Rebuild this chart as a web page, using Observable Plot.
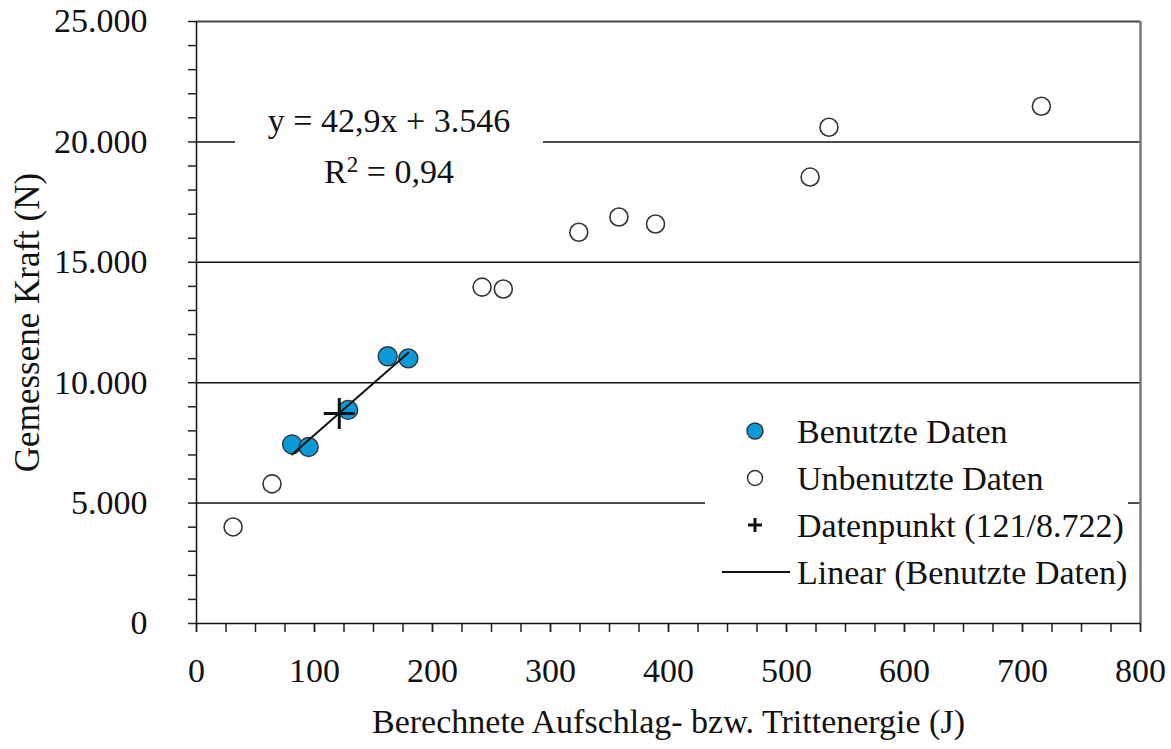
<!DOCTYPE html>
<html><head><meta charset="utf-8">
<script src="https://cdn.jsdelivr.net/npm/d3@7"></script>
<script src="https://cdn.jsdelivr.net/npm/@observablehq/plot@0.6"></script>
<style>
body{margin:0;background:#fff;}
#wrap{position:relative;width:1171px;height:749px;font-family:"Liberation Serif","Times New Roman",serif;color:#111;}
.ov{position:absolute;background:#fff;font-size:34px;color:#111;}
.row{display:flex;align-items:center;height:47px;white-space:nowrap;}
.row svg{flex:none;}
</style></head><body><div id="wrap"></div>
<script>
// ---- data ----
const usedX = [81, 95, 128.5, 162, 179.5];
const usedY = [7440, 7330, 8870, 11100, 11010];
const unusedX = [31, 64, 242, 260, 324, 358, 389, 520, 536, 716];
const unusedY = [4010, 5800, 13970, 13890, 16250, 16880, 16590, 18540, 20610, 21480];
const pointX = [121];
const pointY = [8722];
const fitSlope = 42.9, fitIntercept = 3546, fitR2 = 0.94;
const xTicks = [0, 100, 200, 300, 400, 500, 600, 700, 800];
const yTicks = [0, 5000, 10000, 15000, 20000, 25000];
const gridLevels = [5000, 10000, 15000, 20000];
const xLabel = "Berechnete Aufschlag- bzw. Trittenergie (J)";
const yLabel = "Gemessene Kraft (N)";
const legendLabels = ["Benutzte Daten", "Unbenutzte Daten", "Datenpunkt", "Linear (Benutzte Daten)"];

const de = d3.formatLocale({decimal: ",", thousands: ".", grouping: [3], currency: ["", " €"]});
const fmtInt = de.format(",.0f");
const fmtDec = de.format(",.1f");
const fmt2 = de.format(",.2f");

const used = usedX.map((x, i) => ({x, y: usedY[i]}));
const unused = unusedX.map((x, i) => ({x, y: unusedY[i]}));
const point = pointX.map((x, i) => ({x, y: pointY[i]}));
const fitX = d3.extent(usedX);
const fitLine = fitX.map(x => ({x, y: fitSlope * x + fitIntercept}));

const blue = "#0a9ad7";
const minorX = d3.range(0, 801, 25);
const minorY = d3.range(0, 25001, 1000);
const FS = 34;

const chart = Plot.plot({
  width: 1171, height: 749,
  marginLeft: 196, marginRight: 31, marginTop: 21, marginBottom: 126,
  style: {fontFamily: '"Liberation Serif","Times New Roman",serif', fontSize: FS + "px", color: "#111", background: "#fff"},
  x: {domain: [0, 800]},
  y: {domain: [0, 25000]},
  marks: [
    Plot.ruleY(gridLevels, {stroke: "#111", strokeWidth: 1.5}),
    Plot.axisY(minorY, {tickSize: 8, tickFormat: () => "", label: null, stroke: "#222", strokeWidth: 1.5}),
    Plot.axisY(yTicks, {tickSize: 8, tickPadding: 25, dx: -16, tickFormat: fmtInt, label: null, stroke: "none", fontSize: FS}),
    Plot.axisX(minorX, {tickSize: 9, tickFormat: () => "", label: null, stroke: "#222", strokeWidth: 1.5}),
    Plot.axisX(xTicks, {tickSize: 9, tickPadding: 25, tickFormat: fmtInt, label: null, stroke: "#222", strokeWidth: 1.5, fontSize: FS}),
    Plot.ruleY([25000], {stroke: "#444", strokeWidth: 2}),
    Plot.ruleX([800], {stroke: "#777", strokeWidth: 2.5}),
    Plot.ruleX([0], {stroke: "#111", strokeWidth: 1.5}),
    Plot.ruleY([0], {stroke: "#111", strokeWidth: 1.5}),
    Plot.dot(unused, {x: "x", y: "y", r: 9, fill: "#fff", stroke: "#333", strokeWidth: 1.6}),
    Plot.dot(used, {x: "x", y: "y", r: 9.5, fill: blue, stroke: "#333", strokeWidth: 1.4}),
    Plot.line(fitLine, {x: "x", y: "y", stroke: "#111", strokeWidth: 2}),
    Plot.dot(point, {x: "x", y: "y", symbol: "plus", r: 10, stroke: "#111", strokeWidth: 3}),
    Plot.text([xLabel], {frameAnchor: "bottom", textAnchor: "middle", lineAnchor: "middle", dy: 99, fontSize: FS, fill: "#111"}),
    Plot.text([yLabel], {frameAnchor: "left", textAnchor: "middle", lineAnchor: "middle", rotate: -90, dx: -169, fontSize: 35, fill: "#111"})
  ]
});
const wrap = document.getElementById("wrap");
wrap.appendChild(chart);

// equation box
const eq = document.createElement("div");
eq.className = "ov";
eq.style.cssText = "left:235px;top:95px;width:308px;line-height:51px;text-align:center;";
eq.innerHTML = `<div>y = ${fmtDec(fitSlope)}x + ${fmtInt(fitIntercept)}</div><div>R<sup style="font-size:23px;vertical-align:0;position:relative;top:-11px">2</sup> = ${fmt2(fitR2)}</div>`;
wrap.appendChild(eq);

// legend box
const lg = document.createElement("div");
lg.className = "ov";
lg.style.cssText = "left:705px;top:408px;width:423px;";
const sym = [
  `<circle cx="50" cy="23" r="8" fill="${blue}" stroke="#333" stroke-width="1.4"/>`,
  `<circle cx="50" cy="23" r="7.5" fill="#fff" stroke="#333" stroke-width="1.5"/>`,
  `<path d="M43 23H57M50 16V30" stroke="#111" stroke-width="3"/>`,
  `<path d="M17 23H85" stroke="#111" stroke-width="2"/>`
];
const texts = [legendLabels[0], legendLabels[1],
  `${legendLabels[2]} (${fmtInt(pointX[0])}/${fmtInt(pointY[0])})`, legendLabels[3]];
lg.innerHTML = texts.map((t, i) =>
  `<div class="row"><svg width="92" height="47">${sym[i]}</svg><span>${t}</span></div>`).join("");
wrap.appendChild(lg);
</script>
</body></html>
